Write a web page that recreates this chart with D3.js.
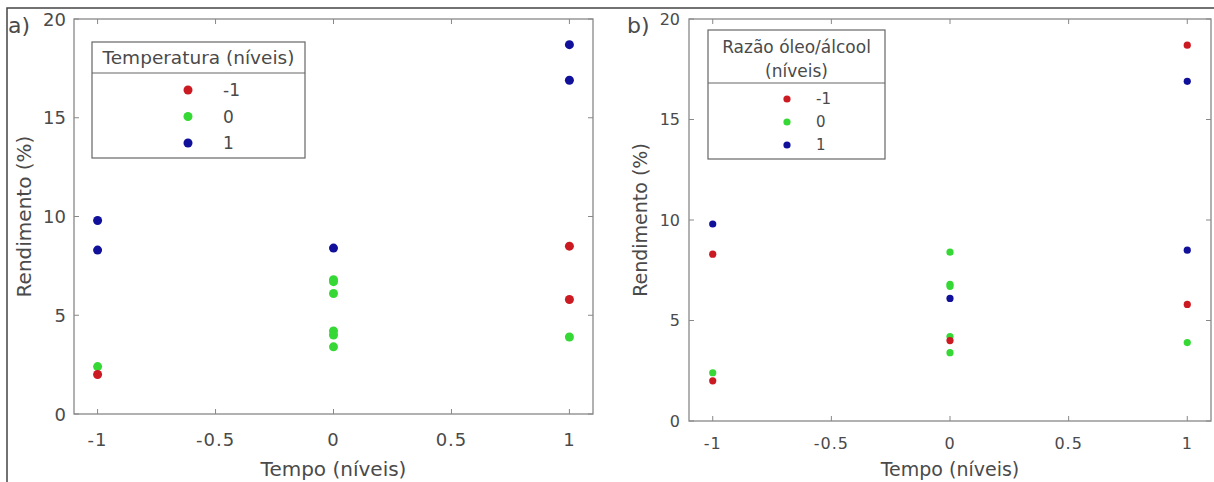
<!DOCTYPE html>
<html>
<head>
<meta charset="utf-8">
<script src="https://cdn.jsdelivr.net/npm/d3@7"></script>
<style>
  body { margin: 0; background: #fff; }
  text { font-family: 'DejaVu Sans', sans-serif; fill: #4a4a4a; }
</style>
</head>
<body>
<script>
// Box-Behnken runs
const tempo = [-1, -1, -1, -1, 0, 0, 0, 0, 0, 0, 0, 1, 1, 1, 1, 1];
const rendimento = [9.8, 8.3, 2.4, 2.0, 8.4, 6.8, 6.7, 6.1, 4.2, 4.0, 3.4, 18.7, 16.9, 8.5, 5.8, 3.9];
const temperatura = [1, 1, 0, -1, 1, 0, 0, 0, 0, 0, 0, 1, 1, -1, -1, 0];
const razao = [1, -1, 0, -1, 0, 0, 0, 1, 0, -1, 0, -1, 1, 1, -1, 0];

const levels = [-1, 0, 1];
const levelColors = ['#cc1a22', '#35d835', '#10109a'];
const xTicks = [-1, -0.5, 0, 0.5, 1];
const yTicks = [0, 5, 10, 15, 20];

const W = 1214, H = 482;

const svg = d3.select('body').append('svg')
  .attr('width', W)
  .attr('height', H);

// outer frame
svg.append('rect')
  .attr('x', 7).attr('y', 8)
  .attr('width', W + 10).attr('height', H + 10)
  .attr('fill', 'none')
  .attr('stroke', '#444')
  .attr('stroke-width', 1.5);

const color = d3.scaleOrdinal().domain(levels).range(levelColors);

function drawPanel(p) {
  const x = d3.scaleLinear().domain([-1.1, 1.1]).range([p.left, p.right]);
  const y = d3.scaleLinear().domain([0, 20]).range([p.bottom, p.top]);
  const g = svg.append('g');

  // box
  g.append('rect')
    .attr('x', p.left).attr('y', p.top)
    .attr('width', p.right - p.left).attr('height', p.bottom - p.top)
    .attr('fill', 'none').attr('stroke', '#888').attr('stroke-width', 1.3);

  // inward ticks on all four sides
  const tl = 5;
  g.selectAll('.xt').data(xTicks).enter().append('path')
    .attr('d', d => `M${x(d)},${p.bottom}v${-tl}M${x(d)},${p.top}v${tl}`)
    .attr('stroke', '#888');
  g.selectAll('.yt').data(yTicks).enter().append('path')
    .attr('d', d => `M${p.left},${y(d)}h${tl}M${p.right},${y(d)}h${-tl}`)
    .attr('stroke', '#888');

  g.selectAll('.xl').data(xTicks).enter().append('text')
    .attr('x', d => x(d))
    .attr('y', p.bottom + p.xLabOff)
    .attr('text-anchor', 'middle')
    .attr('font-size', p.tickSize)
    .attr('letter-spacing', 1)
    .text(d => d);
  g.selectAll('.yl').data(yTicks).enter().append('text')
    .attr('x', p.left - p.yLabOff)
    .attr('y', d => y(d))
    .attr('text-anchor', 'end')
    .attr('dominant-baseline', 'central')
    .attr('font-size', p.tickSize)
    .text(d => d);

  // axis titles
  g.append('text')
    .attr('x', (p.left + p.right) / 2)
    .attr('y', p.xTitleY)
    .attr('text-anchor', 'middle')
    .attr('font-size', p.titleSize)
    .text('Tempo (níveis)');
  g.append('text')
    .attr('transform', `translate(${p.yTitleX},${(p.top + p.bottom) / 2}) rotate(-90)`)
    .attr('text-anchor', 'middle')
    .attr('font-size', p.titleSize)
    .text('Rendimento (%)');

  // panel letter
  g.append('text')
    .attr('x', p.tagX).attr('y', 33)
    .attr('font-size', 22)
    .attr('fill', '#222')
    .text(p.tag);

  // points
  g.selectAll('.pt').data(d3.range(tempo.length)).enter().append('circle')
    .attr('cx', i => x(tempo[i]))
    .attr('cy', i => y(rendimento[i]))
    .attr('r', p.r)
    .attr('fill', i => color(p.group[i]));

  // legend
  const lg = p.legend;
  g.append('rect')
    .attr('x', lg.x0).attr('y', lg.y0)
    .attr('width', lg.x1 - lg.x0).attr('height', lg.y1 - lg.y0)
    .attr('fill', '#fff').attr('stroke', '#666').attr('stroke-width', 1.2);
  g.append('line')
    .attr('x1', lg.x0).attr('x2', lg.x1)
    .attr('y1', lg.sep).attr('y2', lg.sep)
    .attr('stroke', '#666').attr('stroke-width', 1.2);
  g.selectAll('.lt').data(lg.title).enter().append('text')
    .attr('x', (lg.x0 + lg.x1) / 2)
    .attr('y', (d, i) => lg.titleY + i * lg.titleStep)
    .attr('text-anchor', 'middle')
    .attr('font-size', lg.titleSize)
    .attr('fill', '#222')
    .text(d => d);
  const rowY = d3.scalePoint().domain(levels).range(lg.rows);
  g.selectAll('.lm').data(levels).enter().append('circle')
    .attr('cx', lg.mx)
    .attr('cy', d => rowY(d))
    .attr('r', p.r)
    .attr('fill', d => color(d));
  g.selectAll('.ll').data(levels).enter().append('text')
    .attr('x', lg.tx)
    .attr('y', d => rowY(d))
    .attr('dominant-baseline', 'central')
    .attr('font-size', lg.entrySize)
    .attr('fill', '#222')
    .text(d => d);
}

drawPanel({
  tag: 'a)', tagX: 8,
  left: 74, right: 593, top: 19, bottom: 414,
  tickSize: 18, titleSize: 20, xLabOff: 32, yLabOff: 8,
  xTitleY: 476, yTitleX: 31, r: 4.5,
  group: temperatura,
  legend: {
    x0: 92, x1: 305, y0: 42, y1: 158, sep: 73,
    title: ['Temperatura (níveis)'], titleY: 64, titleStep: 0, titleSize: 18.5,
    rows: [90, 143], mx: 188, tx: 223, entrySize: 17,
  },
});

drawPanel({
  tag: 'b)', tagX: 627,
  left: 689, right: 1211, top: 19, bottom: 421,
  tickSize: 16, titleSize: 19, xLabOff: 28, yLabOff: 9,
  xTitleY: 476, yTitleX: 647, r: 3.6,
  group: razao,
  legend: {
    x0: 708, x1: 885, y0: 30, y1: 159, sep: 83,
    title: ['Razão óleo/álcool', '(níveis)'], titleY: 53, titleStep: 24, titleSize: 17,
    rows: [99, 145], mx: 787, tx: 816, entrySize: 15,
  },
});
</script>
</body>
</html>
